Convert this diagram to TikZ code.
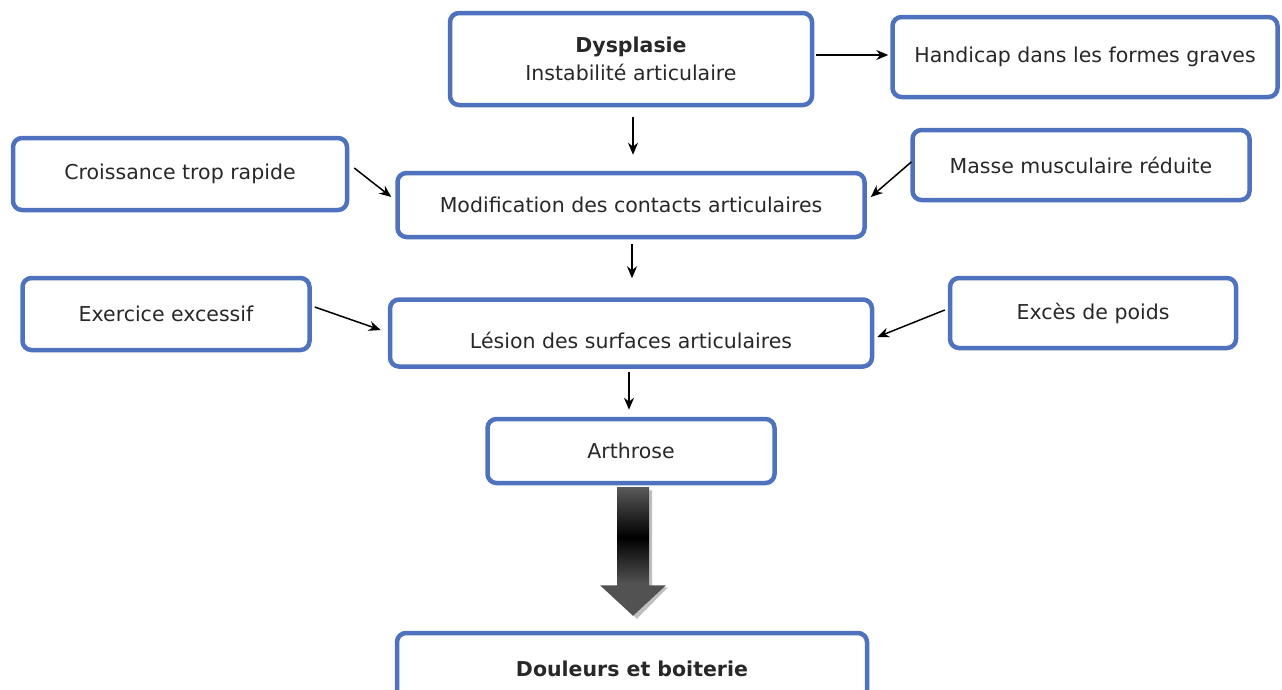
\documentclass[tikz,border=0pt]{standalone}
\usepackage{fontspec}
\setmainfont{DejaVu Sans}
\usetikzlibrary{arrows.meta,calc}
\definecolor{boxblue}{RGB}{79,114,190}
\definecolor{txtgray}{RGB}{40,40,40}
\tikzset{
  flowbox/.style={draw=boxblue, line width=4.5pt, rounded corners=9pt, fill=white,
    align=center, inner sep=0pt, font=\fontsize{20.5}{28}\selectfont, text=txtgray},
  arr/.style={draw=black, line width=1.5pt, -{Stealth[length=12pt,width=10pt]}}
}
\begin{document}
\begin{tikzpicture}[x=1pt,y=-1pt]
\useasboundingbox (0,0) rectangle (1282,689);
\fill[white] (0,0) rectangle (1282,689);

\node[flowbox, minimum width=362pt, minimum height=92pt] (dys) at (631,59)
  {\textbf{Dysplasie}\\Instabilité articulaire};
\node[flowbox, minimum width=385pt, minimum height=80pt] (hand) at (1085,57)
  {Handicap dans les formes graves};
\node[flowbox, minimum width=334pt, minimum height=72pt] (crois) at (180,174)
  {Croissance trop rapide};
\node[flowbox, minimum width=467pt, minimum height=64pt] (modif) at (631,205)
  {Modification des contacts articulaires};
\node[flowbox, minimum width=337pt, minimum height=70pt] (masse) at (1081,165)
  {Masse musculaire réduite};
\node[flowbox, minimum width=287pt, minimum height=72pt] (exer) at (166,314)
  {Exercice excessif};
\node[flowbox, minimum width=482pt, minimum height=67pt] (lesion) at (631,333)
  {\raisebox{-15pt}[0pt][0pt]{Lésion des surfaces articulaires}};
\node[flowbox, minimum width=286pt, minimum height=70pt] (exces) at (1093,313)
  {Excès de poids};
\node[flowbox, minimum width=287pt, minimum height=64pt] (arth) at (631,451)
  {Arthrose};
\node[flowbox, minimum width=470pt, minimum height=72pt] (doul) at (632,669)
  {\textbf{Douleurs et boiterie}};

% thin arrows
\draw[arr] ($(dys.east)+(2,-4)$) -- ($(hand.west)+(-2,-2)$);
\draw[arr] ($(dys.south)+(2,10)$) -- ($(modif.north)+(2,-16)$);
\draw[arr] ($(crois.east)+(5,-6)$) -- ($(modif.west)+(-4,-8)$);
\draw[arr] ($(masse.west)+(1,-3)$) -- ($(modif.east)+(4,-8)$);
\draw[arr] ($(modif.south)+(1,5)$) -- ($(lesion.north)+(1,-19)$);
\draw[arr] ($(exer.east)+(3,-7)$) -- ($(lesion.west)+(-7,-3)$);
\draw[arr] ($(exces.west)+(-3,-3)$) -- ($(lesion.east)+(3,4)$);
\draw[arr] ($(lesion.south)+(-2,3)$) -- ($(arth.north)+(-2,-7)$);

% big shaded arrow
\coordinate (bt) at ($(arth.south)+(2,0)$);
\coordinate (bb) at ($(doul.north)+(1,-15)$);
\fill[black!25] ($(bt)+(-13,5)$) -- ($(bt)+(19,5)$) -- ($(bt)+(19,102)$) -- ($(bt)+(35,102)$)
  -- ($(bb)+(4,3)$) -- ($(bt)+(-29,102)$) -- ($(bt)+(-13,102)$) -- cycle;
\shade[top color=black!65, bottom color=black!65, middle color=black]
  ($(bt)+(-16,2)$) rectangle ($(bt)+(16,102)$);
\fill[black!68] ($(bt)+(-33,100)$) -- ($(bt)+(33,100)$) -- (bb) -- cycle;
\end{tikzpicture}
\end{document}
